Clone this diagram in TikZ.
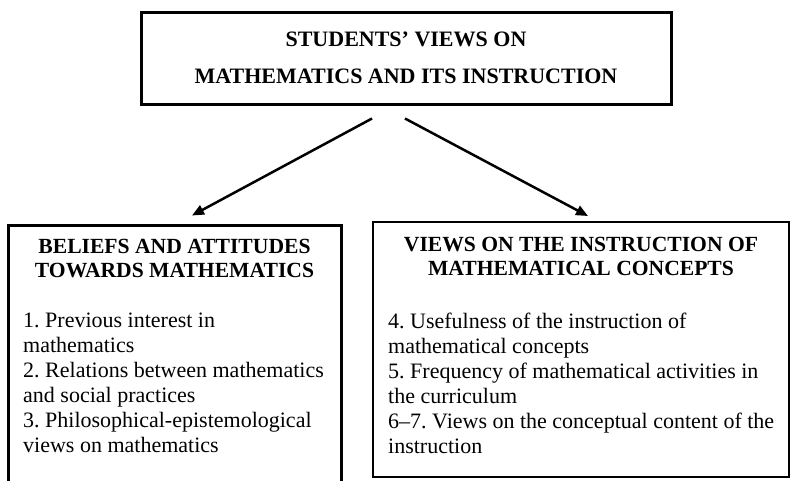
\documentclass[tikz,border=0pt]{standalone}
\usepackage{fontspec}
\setmainfont{Liberation Serif}
\usetikzlibrary{arrows.meta,calc}
\frenchspacing
\begin{document}
\begin{tikzpicture}[x=1pt,y=-1pt,
  boxthick/.style={draw, line width=3pt, inner sep=0pt},
  boxthin/.style={draw, line width=2pt, inner sep=0pt},
  headtext/.style={inner sep=0pt, align=center, font=\fontsize{21.6}{24}\selectfont\bfseries},
  bodytext/.style={inner sep=0pt, align=left, font=\fontsize{22}{25}\selectfont},
  arr/.style={line width=2.5pt, -{Triangle[length=12pt,width=10pt]}}]
\clip (0,0) rectangle (791,480);
\fill[white] (0,0) rectangle (791,480);
% top box
\node[boxthick, minimum width=530pt, minimum height=92pt, align=center,
  font=\fontsize{22}{37}\selectfont\bfseries] (top) at (406,58)
  {STUDENTS’ VIEWS ON\\MATHEMATICS AND ITS INSTRUCTION};
% left box (open at the bottom edge of the picture)
\node[boxthick, minimum width=333pt, minimum height=270pt] (lbox) at (174.5,360) {};
\node[headtext, anchor=north] (lhead) at (174.5,238.5)
  {BELIEFS AND ATTITUDES\\TOWARDS MATHEMATICS};
\node[bodytext, anchor=north west] (lbody) at (23,313)
  {1. Previous interest in\\mathematics\\2. Relations between mathematics\\and social practices\\3. Philosophical-epistemological\\views on mathematics};
% right box
\node[boxthin, minimum width=416pt, minimum height=255pt] (rbox) at (581,349.5) {};
\node[headtext, anchor=north] (rhead) at (581,236.5)
  {VIEWS ON THE INSTRUCTION OF\\MATHEMATICAL CONCEPTS};
\node[bodytext, anchor=north west] (rbody) at (388,312.5)
  {4. Usefulness of the instruction of\\mathematical concepts\\5. Frequency of mathematical activities in\\the curriculum\\6–7. Views on the conceptual content of the\\instruction};
% arrows
\coordinate (a1) at ($(top.south)+(-34,13)$);
\coordinate (a2) at ($(lbox.north)+(17.5,-8)$);
\coordinate (b1) at ($(top.south)+(-1,13)$);
\coordinate (b2) at ($(rbox.north)+(7,-5)$);
\draw[arr] (a1) -- (a2);
\draw[arr] (b1) -- (b2);
\end{tikzpicture}
\end{document}
